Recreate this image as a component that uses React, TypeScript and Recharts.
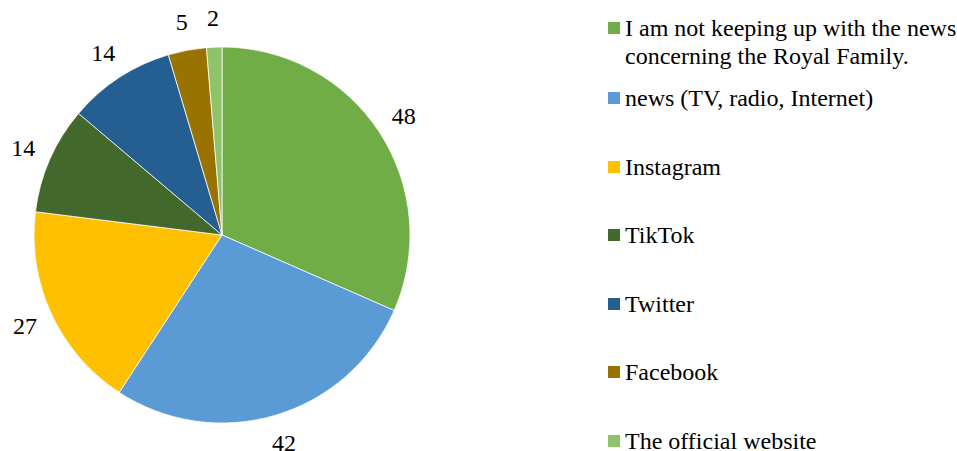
import React from "react";
import { PieChart, Pie, Cell } from "recharts";

const categories = [
  "I am not keeping up with the news concerning the Royal Family.",
  "news (TV, radio, Internet)",
  "Instagram",
  "TikTok",
  "Twitter",
  "Facebook",
  "The official website",
];
const values = [48, 42, 27, 14, 14, 5, 2];
const colors = ["#70AD47", "#5B9BD5", "#FFC000", "#43682B", "#255E91", "#997300", "#8FC36A"];

const data = categories.map((name, i) => ({ name, value: values[i] }));

const FONT = "Liberation Serif";
const RADIAN = Math.PI / 180;

function renderLabel(props: any) {
  const { cx, cy, midAngle, outerRadius, value } = props;
  const r = outerRadius + 29;
  const x = cx + r * Math.cos(-midAngle * RADIAN);
  const y = cy + r * Math.sin(-midAngle * RADIAN);
  return (
    <text
      x={x}
      y={y}
      fill="#000"
      fontFamily={FONT}
      fontSize={24}
      textAnchor="middle"
      dominantBaseline="central"
    >
      {value}
    </text>
  );
}

// legend drawn as plain html next to the pie
function LegendBox() {
  return (
    <div style={{ position: "absolute", left: 608, top: 0, width: 349, height: 451, fontFamily: FONT, fontSize: 24, color: "#000" }}>
      {categories.map((name, i) => {
        const center = i === 0 ? 28 : 98 + (i - 1) * 68.5;
        return (
          <div key={name} style={{ position: "absolute", left: 0, top: center - 14, display: "flex", alignItems: "flex-start" }}>
            <div style={{ width: 12, height: 12, marginTop: 8, background: colors[i], flexShrink: 0 }} />
            <div style={{ marginLeft: 5, width: 335, lineHeight: "28px", whiteSpace: "normal" }}>{name}</div>
          </div>
        );
      })}
    </div>
  );
}

export default function App() {
  return (
    <div style={{ position: "absolute", left: 0, top: 0, width: 957, height: 451, overflow: "hidden", background: "#fff" }}>
      <PieChart width={957} height={451} margin={{ top: 0, right: 0, bottom: 0, left: 0 }}>
        <Pie
          data={data}
          dataKey="value"
          nameKey="name"
          cx={222}
          cy={235}
          outerRadius={188}
          startAngle={90}
          endAngle={-270}
          stroke="#fff"
          strokeWidth={0.75}
          label={renderLabel}
          labelLine={false}
          isAnimationActive={false}
        >
          {data.map((d, i) => (
            <Cell key={d.name} fill={colors[i]} />
          ))}
        </Pie>
      </PieChart>
      <LegendBox />
    </div>
  );
}
